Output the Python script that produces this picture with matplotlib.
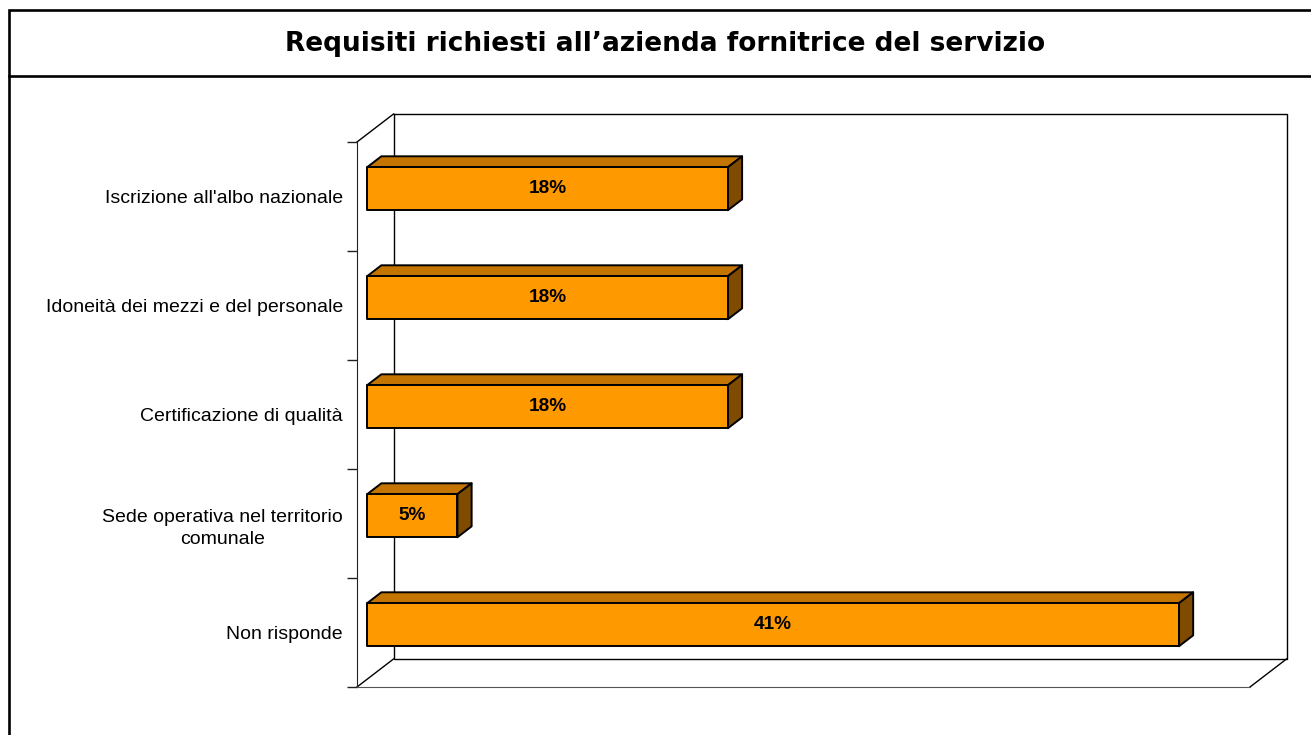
#!/usr/bin/env python3
# Requisiti richiesti all'azienda fornitrice del servizio - 3D style horizontal bars
import numpy as np
from matplotlib import pyplot as plt
from matplotlib.patches import Polygon, Rectangle
from matplotlib.lines import Line2D


# data (top to bottom), values in percent of respondents
categories = ["Iscrizione all'albo nazionale",
              'Idoneità dei mezzi e del personale',
              'Certificazione di qualità',
              'Sede operativa nel territorio\ncomunale',
              'Non risponde']
values = [18.18, 18.18, 18.18, 4.55, 40.91]
value_labels = ['18%', '18%', '18%', '5%', '41%']
x_max = 45

title = 'Requisiti richiesti all\u2019azienda fornitrice del servizio'

# colours
c_front = '#FF9900'
c_top = '#C47400'
c_side = '#7F4B00'

W, H, DPI = 1311, 735, 100
fig = plt.figure(figsize=(W / DPI, H / DPI), dpi=DPI)

# front plane of the chart, in pixels
px_l, px_r, px_t, px_b = 357, 1250, 142, 687
ax = fig.add_axes([px_l / W, 1 - px_b / H, (px_r - px_l) / W, (px_b - px_t) / H])
n = len(categories)
ypos = np.arange(n)
ax.set_xlim(0, x_max)
ax.set_ylim(n - 0.5, -0.5)

# depth vector (pixels -> data units)
sx = (px_r - px_l) / x_max
sy = (px_b - px_t) / n
dep = np.array([36.5 / sx, -28 / sy])


def pt(x, y, z):
    return (x + z * dep[0], y + z * dep[1])


# walls / floor
wall = dict(color='black', lw=1.0, clip_on=False, zorder=1)
back = [pt(0, -0.5, 1), pt(x_max, -0.5, 1), pt(x_max, n - 0.5, 1), pt(0, n - 0.5, 1), pt(0, -0.5, 1)]
ax.plot(*zip(*back), **wall)
ax.plot(*zip(pt(0, -0.5, 0), pt(0, -0.5, 1)), **wall)
ax.plot(*zip(pt(0, n - 0.5, 0), pt(0, n - 0.5, 1)), **wall)
ax.plot(*zip(pt(x_max, n - 0.5, 0), pt(x_max, n - 0.5, 1)), **wall)

# bars
z0, z1 = 10 / 36, 24 / 36
h = 0.395
for y, v, lab in zip(ypos, values, value_labels):
    yt, yb = y - h / 2, y + h / 2
    front = [pt(0, yt, z0), pt(v, yt, z0), pt(v, yb, z0), pt(0, yb, z0)]
    top = [pt(0, yt, z0), pt(v, yt, z0), pt(v, yt, z1), pt(0, yt, z1)]
    side = [pt(v, yt, z0), pt(v, yt, z1), pt(v, yb, z1), pt(v, yb, z0)]
    for poly, col in [(top, c_top), (side, c_side), (front, c_front)]:
        ax.add_patch(Polygon(poly, closed=True, fc=col, ec='black', lw=1.4,
                             joinstyle='round', clip_on=False, zorder=3))
    cx, cy = pt(v / 2, y, z0)
    ax.text(cx, cy, lab, ha='center', va='center', fontsize=13.7, fontweight='bold',
            family='Liberation Sans', zorder=4)

# axes styling
for s in ['top', 'right']:
    ax.spines[s].set_visible(False)
ax.spines['left'].set_color('#222222')
ax.spines['bottom'].set_color('#555555')
ax.spines['left'].set_zorder(2)
ax.set_xticks([])
ax.set_yticks(ypos)
ax.set_yticklabels(categories, fontsize=14, family='Liberation Sans',
                   multialignment='center', linespacing=1.4)
ax.set_yticks(np.arange(n + 1) - 0.5, minor=True)
ax.tick_params(axis='y', which='major', length=0, pad=10)
ax.tick_params(axis='y', which='minor', length=7.2, width=1, color='#222222', direction='out')
ax.patch.set_visible(False)

# outer frame and title box
fig.add_artist(Rectangle((9 / W, -0.1), 1.2, 1 - 10 / H + 0.1, transform=fig.transFigure,
                         fill=False, ec='black', lw=1.9))
fig.add_artist(Line2D([9 / W, 1.0], [1 - 76 / H, 1 - 76 / H], transform=fig.transFigure,
                      color='black', lw=1.9))
fig.text(665.5 / W, 1 - 44 / H, title, ha='center', va='center', fontsize=19,
         fontweight='bold', family='DejaVu Sans')

fig.savefig('out.png', dpi=DPI)
